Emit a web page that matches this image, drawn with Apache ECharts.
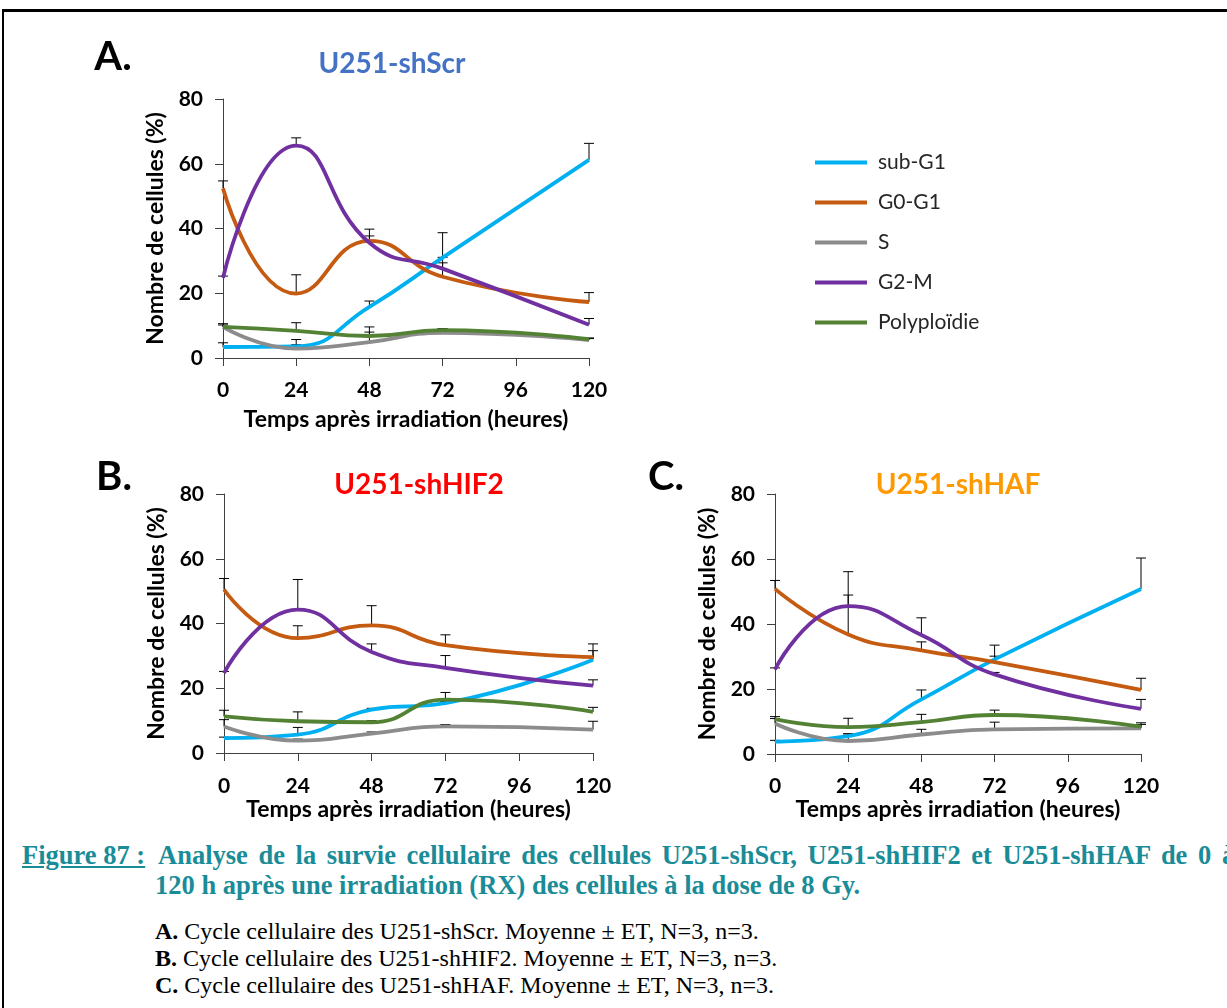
<!DOCTYPE html>
<html>
<head>
<meta charset="utf-8">
<script src="https://cdn.jsdelivr.net/npm/echarts@6/dist/echarts.min.js"></script>
<style>
  html, body { margin: 0; padding: 0; background: #fff; overflow: hidden; }
  body { width: 1227px; height: 1008px; position: relative; }
  #frame { position: absolute; left: 2px; top: 9px; width: 1400px; height: 1100px;
           border-top: 3px solid #000; border-left: 2px solid #000; }
  #chart { position: absolute; left: 0; top: 0; width: 1227px; height: 830px; }
  .cap { position: absolute; font-family: "Liberation Serif", "Times New Roman", serif; white-space: nowrap; }
  .fig { color: #1a8c98; font-weight: bold; font-size: 26.5px; }
  .leg { color: #000; font-size: 24px; }
</style>
</head>
<body>
<div id="frame"></div>
<div id="chart"></div>
<div class="cap fig" style="left:22px; top:840px;"><span style="text-decoration: underline;">Figure 87 :</span></div>
<div class="cap fig" style="left:158px; top:840px; word-spacing: 4px;">Analyse de la survie cellulaire des cellules U251-shScr, U251-shHIF2 et U251-shHAF de 0 à</div>
<div class="cap fig" style="left:155px; top:870px;">120 h après une irradiation (RX) des cellules à la dose de 8 Gy.</div>
<div class="cap leg" style="left:155px; top:918px;"><b>A.</b> Cycle cellulaire des U251-shScr. Moyenne ± ET, N=3, n=3.</div>
<div class="cap leg" style="left:155px; top:945px;"><b>B.</b> Cycle cellulaire des U251-shHIF2. Moyenne ± ET, N=3, n=3.</div>
<div class="cap leg" style="left:155px; top:972px;"><b>C.</b> Cycle cellulaire des U251-shHAF. Moyenne ± ET, N=3, n=3.</div>
<script>
// heures après irradiation
const hours = [0, 24, 48, 72, 120];
const phases = ["sub-G1", "G0-G1", "S", "G2-M", "Polyploïdie"];
const phaseColors = ["#00b0f0", "#c55a11", "#8c8c8c", "#7030a0", "#548235"];
const yTicks = [0, 20, 40, 60, 80];

// A. U251-shScr
const scrSubG1 = [3.4, 3.6, 15.8, 31.0, 61.2];
const scrG0G1 = [52.4, 19.9, 36.2, 25.1, 17.3];
const scrS = [9.6, 2.9, 4.9, 7.8, 5.5];
const scrG2M = [24.8, 65.6, 35.6, 27.6, 10.3];
const scrPoly = [9.6, 8.4, 6.8, 8.6, 5.8];
const scrSubG1Err = [1.3, 0.5, 1.8, 7.7, 5.1];
const scrG0G1Err = [2.3, 5.8, 3.6, 6.0, 2.9];
const scrSErr = [1.0, 2.8, 3.1, 1.2, 0.5];
const scrG2MErr = [0.5, 2.4, 2.1, 1.8, 1.9];
const scrPolyErr = [0.6, 2.5, 2.8, 0.4, 0.4];

// B. U251-shHIF2
const hif2SubG1 = [4.6, 5.7, 13.4, 15.4, 28.8];
const hif2G0G1 = [50.5, 35.5, 39.4, 33.3, 29.6];
const hif2S = [8.2, 3.8, 6.0, 8.2, 7.2];
const hif2G2M = [24.7, 44.3, 31.2, 26.3, 20.8];
const hif2Poly = [11.3, 9.8, 9.5, 16.5, 12.7];
const hif2SubG1Err = [0.3, 2.2, 0.4, 0.5, 2.8];
const hif2G0G1Err = [3.4, 3.8, 6.1, 3.2, 4.1];
const hif2SErr = [2.1, 0.5, 0.5, 0.6, 2.6];
const hif2G2MErr = [0.5, 9.3, 2.5, 3.8, 1.8];
const hif2PolyErr = [1.9, 2.9, 0.5, 2.2, 1.4];

// C. U251-shHAF
const hafSubG1 = [3.8, 5.5, 16.8, 29.1, 50.8];
const hafG0G1 = [50.8, 36.8, 31.9, 28.3, 19.7];
const hafS = [9.4, 4.0, 6.0, 7.6, 7.9];
const hafG2M = [26.0, 45.5, 36.6, 24.5, 13.9];
const hafPoly = [10.7, 8.3, 9.8, 12.0, 8.4];
const hafSubG1Err = [0.4, 0.7, 2.9, 4.4, 9.5];
const hafG0G1Err = [2.6, 12.1, 2.6, 1.8, 3.6];
const hafSErr = [1.5, 2.2, 1.6, 2.2, 1.2];
const hafG2MErr = [0.5, 10.6, 5.3, 0.6, 2.9];
const hafPolyErr = [0.8, 2.7, 2.4, 1.5, 1.2];

const panels = [
    { values: [scrSubG1, scrG0G1, scrS, scrG2M, scrPoly],
      errors: [scrSubG1Err, scrG0G1Err, scrSErr, scrG2MErr, scrPolyErr] },
    { values: [hif2SubG1, hif2G0G1, hif2S, hif2G2M, hif2Poly],
      errors: [hif2SubG1Err, hif2G0G1Err, hif2SErr, hif2G2MErr, hif2PolyErr] },
    { values: [hafSubG1, hafG0G1, hafS, hafG2M, hafPoly],
      errors: [hafSubG1Err, hafG0G1Err, hafSErr, hafG2MErr, hafPolyErr] }
];

const font = "Lato";
let chart = echarts.init(document.getElementById("chart"));

let grids = [
    { left: 223, top: 99, width: 366, height: 259 },
    { left: 224, top: 494, width: 369, height: 259 },
    { left: 775, top: 494, width: 366, height: 260 }
];
let xNameGaps = [50, 37, 41];
let xLabelMargins = [22, 23, 22];

let xAxes = grids.map((g, i) => ({
    type: "value", gridIndex: i, min: 0, max: 120, interval: 24,
    name: "Temps après irradiation (heures)",
    nameLocation: "middle", nameGap: xNameGaps[i],
    nameTextStyle: { fontFamily: font, fontWeight: "bold", fontSize: 23, color: "#000" },
    axisLine: { lineStyle: { color: "#404040", width: 1 } },
    axisTick: { length: 8, lineStyle: { color: "#404040" } },
    axisLabel: { fontFamily: font, fontWeight: "bold", fontSize: 21, color: "#000", margin: xLabelMargins[i] },
    splitLine: { show: false }
}));

let yAxes = grids.map((g, i) => ({
    type: "value", gridIndex: i, min: yTicks[0], max: yTicks[yTicks.length - 1], interval: 20,
    name: "Nombre de cellules (%)",
    nameLocation: "middle", nameGap: 56,
    nameTextStyle: { fontFamily: font, fontWeight: "bold", fontSize: 23, color: "#000" },
    axisLine: { show: true, lineStyle: { color: "#404040", width: 1 } },
    axisTick: { show: true, length: 8, lineStyle: { color: "#404040" } },
    axisLabel: { fontFamily: font, fontWeight: "bold", fontSize: 21, color: "#000", margin: 20 },
    splitLine: { show: false }
}));

function errorBars(gridIdx, values, errs) {
    return {
        type: "custom",
        name: "ET",
        xAxisIndex: gridIdx,
        yAxisIndex: gridIdx,
        silent: true,
        z: 1,
        data: hours.map((h, k) => [h, values[k], errs[k]]),
        encode: { x: 0, y: 1 },
        renderItem: function (params, api) {
            let x = api.value(0), y = api.value(1), e = api.value(2);
            let p0 = api.coord([x, y]);
            let p1 = api.coord([x, y + e]);
            let st = { stroke: "#000", lineWidth: 1 };
            return {
                type: "group",
                children: [
                    { type: "line", shape: { x1: p0[0], y1: p0[1], x2: p1[0], y2: p1[1] }, style: st },
                    { type: "line", shape: { x1: p1[0] - 5, y1: p1[1], x2: p1[0] + 5, y2: p1[1] }, style: st }
                ]
            };
        }
    };
}

let series = [];
panels.forEach((p, gi) => {
    p.values.forEach((vals, si) => {
        series.push(errorBars(gi, vals, p.errors[si]));
    });
    p.values.forEach((vals, si) => {
        series.push({
            name: phases[si],
            type: "line",
            xAxisIndex: gi,
            yAxisIndex: gi,
            smooth: 0.5,
            showSymbol: false,
            z: 2,
            data: hours.map((h, k) => [h, vals[k]]),
            itemStyle: { color: phaseColors[si] },
            lineStyle: { color: phaseColors[si], width: 3.8 }
        });
    });
});

function label(text, x, y, size, color) {
    return {
        type: "text", x: x, y: y,
        style: { text: text, fill: color, fontFamily: font, fontWeight: "bold", fontSize: size,
                 align: "center", verticalAlign: "middle" }
    };
}

let option = {
    animation: false,
    grid: grids,
    xAxis: xAxes,
    yAxis: yAxes,
    legend: {
        data: phases.map(n => ({ name: n, icon: "rect" })),
        orient: "vertical",
        left: 810, top: 147,
        itemWidth: 52, itemHeight: 4, itemGap: 19,
        textStyle: { fontFamily: font, fontSize: 21, color: "#262626", padding: [0, 0, 0, 6] }
    },
    graphic: [
        label("A.", 113, 57, 40, "#000"),
        label("B.", 114, 477, 40, "#000"),
        label("C.", 666, 477, 40, "#000"),
        label("U251-shScr", 392, 64, 28, "#4472c4"),
        label("U251-shHIF2", 419, 485, 28, "#ff0000"),
        label("U251-shHAF", 958, 485, 28, "#ff9900")
    ],
    series: series
};
chart.setOption(option);
</script>
</body>
</html>
